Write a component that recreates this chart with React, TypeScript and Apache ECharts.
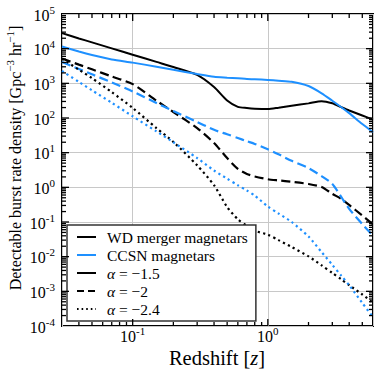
import React, { useEffect, useRef } from 'react';
import * as echarts from 'echarts';

// ---------------- data ----------------
const redshift = [0.03, 0.04, 0.05, 0.07, 0.1, 0.15, 0.2, 0.3, 0.4, 0.5, 0.6, 0.7, 0.8, 1.0, 1.2, 1.5, 2.0, 2.5, 3.0, 3.5, 4.0, 5.0, 6.0];

const wdAlpha15 = [2.8e4, 1.97e4, 1.52e4, 1.02e4, 6.7e3, 4.15e3, 2.96e3, 1.75e3, 780, 320, 210, 194, 186, 182, 199, 226, 264, 305, 265, 205, 165, 118, 90];
const ccsnAlpha15 = [1.15e4, 8.3e3, 6.6e3, 4.9e3, 3.96e3, 3.02e3, 2.46e3, 1.86e3, 1.55e3, 1.46e3, 1.4e3, 1.33e3, 1.31e3, 1.25e3, 1.19e3, 1.11e3, 835, 515, 315, 205, 138, 67, 39];
const wdAlpha2 = [5.2e3, 3.46e3, 2.54e3, 1.58e3, 950, 316, 149, 51, 19, 7.0, 3.4, 2.43, 2.06, 1.71, 1.58, 1.45, 1.25, 1.02, 0.65, 0.46, 0.31, 0.153, 0.086];
const ccsnAlpha2 = [4.1e3, 2.6e3, 1.82e3, 1.06e3, 582, 271, 158, 77, 45.5, 34, 26.5, 21.4, 17.9, 12.5, 9, 5.8, 3.6, 2.1, 1.25, 0.52, 0.24, 0.087, 0.04];
const wdAlpha24 = [5.1e3, 2.47e3, 1.41e3, 558, 195, 51, 20.4, 4.3, 1.15, 0.27, 0.12, 0.077, 0.056, 0.043, 0.03, 0.019, 0.0102, 0.0056, 0.0034, 0.0022, 0.0015, 8.1e-4, 4.7e-4];
const ccsnAlpha24 = [2.27e3, 1.1e3, 630, 275, 112, 41, 20, 7.0, 3.06, 1.78, 1.15, 0.81, 0.58, 0.28, 0.176, 0.1, 0.038, 0.0135, 0.0058, 0.0028, 0.0015, 4.6e-4, 1.8e-4];

const xMajorTicks = [0.1, 1];
const xMinorTicks = [0.04, 0.05, 0.06, 0.07, 0.08, 0.09, 0.2, 0.3, 0.4, 0.5, 0.6, 0.7, 0.8, 0.9, 2, 3, 4, 5];
const yMajorTicks = [1e-3, 1e-2, 1e-1, 1, 10, 100, 1e3, 1e4];
const yDecades = [-4, -3, -2, -1, 0, 1, 2, 3, 4];
const yMantissas = [2, 3, 4, 5, 6, 7, 8, 9];

const legendNames = ['WD merger magnetars', 'CCSN magnetars', 'α = −1.5', 'α = −2', 'α = −2.4'];
const xTitle = 'Redshift';
const yTitle = 'Detectable burst rate density';

// ---------------- styles ----------------
const FONT = '"Liberation Serif", "Times New Roman", serif';
const BLACK = '#000000';
const BLUE = '#1e90ff';
const DASH = [9, 4.5];
const DOT = [2.2, 3.3];

function powLabel(v: number): string {
  const e = Math.log10(v);
  const r = Math.round(e);
  if (Math.abs(e - r) > 1e-6) return '';
  return `{b|10}{s|${r}}`;
}

const tickRich = {
  b: { fontFamily: FONT, fontSize: 16, color: '#000', verticalAlign: 'bottom', lineHeight: 18 },
  s: { fontFamily: FONT, fontSize: 11, color: '#000', verticalAlign: 'bottom', lineHeight: 12, padding: [0, 0, 8, 0] },
};

export default function App() {
  const ref = useRef<HTMLDivElement>(null);

  useEffect(() => {
    if (!ref.current) return;
    const chart = echarts.init(ref.current, undefined, { renderer: 'svg' });

    const yMinorTicks: number[] = [];
    yDecades.forEach((d) => yMantissas.forEach((m) => yMinorTicks.push(m * Math.pow(10, d))));

    const xTickData = [
      ...xMajorTicks.map((v) => [v, 1, 1]),
      ...xMinorTicks.map((v) => [v, 1, 0]),
    ];
    const yTickData = [
      ...yMajorTicks.map((v) => [1, v, 1]),
      ...yMinorTicks.map((v) => [1, v, 0]),
    ];

    const tickStyle = { stroke: '#000', lineWidth: 1.3 };

    const pairs = (ys: number[]) => redshift.map((z, i) => [z, ys[i]]);

    const mkLine = (name: string, ys: number[], color: string, type: any, width: number) => ({
      name,
      type: 'line',
      data: pairs(ys),
      symbol: 'none',
      smooth: 0.25,
      lineStyle: { color, width, type, cap: 'butt' },
      itemStyle: { color },
      z: 3,
    });

    const mkLegendDummy = (name: string, color: string, type: any, width: number) => ({
      name,
      type: 'line',
      data: [],
      symbol: 'none',
      lineStyle: { color, width, type },
      itemStyle: { color },
    });

    const legendLabel: Record<string, string> = {
      'WD merger magnetars': '{sp|}{t|WD merger magnetars}',
      'CCSN magnetars': '{sp|}{t|CCSN magnetars}',
      'α = −1.5': '{sp|}{i|α}{t| = −1.5}',
      'α = −2': '{sp|}{i|α}{t| = −2}',
      'α = −2.4': '{sp|}{i|α}{t| = −2.4}',
    };

    const titleRich = {
      t: { fontFamily: FONT, fontSize: 16, color: '#000', verticalAlign: 'bottom', lineHeight: 18 },
      s: { fontFamily: FONT, fontSize: 11, color: '#000', verticalAlign: 'bottom', lineHeight: 12, padding: [0, 0, 8, 0] },
    };

    const option: any = {
      animation: false,
      backgroundColor: '#ffffff',
      grid: {
        left: 62, right: 5, top: 14, bottom: 48,
        show: true, borderColor: '#000', borderWidth: 2, backgroundColor: 'transparent',
        outerBoundsMode: 'none',
      },
      xAxis: {
        type: 'log', logBase: 10, min: 0.03, max: 6,
        axisLine: { show: false },
        axisTick: { show: false },
        minorTick: { show: false },
        splitLine: { show: true, lineStyle: { color: '#c8c8c8', width: 1 } },
        axisLabel: {
          show: true, margin: 0, formatter: powLabel, rich: tickRich,
          fontFamily: FONT, fontSize: 16, color: '#000', hideOverlap: false,
          showMinLabel: true, showMaxLabel: true,
        },
      },
      yAxis: {
        type: 'log', logBase: 10, min: 1e-4, max: 1e5,
        axisLine: { show: false },
        axisTick: { show: false },
        minorTick: { show: false },
        splitLine: { show: true, lineStyle: { color: '#c8c8c8', width: 1 } },
        axisLabel: {
          show: true, margin: 7, formatter: powLabel, rich: tickRich,
          fontFamily: FONT, fontSize: 16, color: '#000', hideOverlap: false,
        },
      },
      legend: {
        data: legendNames,
        orient: 'vertical',
        left: 67, top: 225,
        itemWidth: 19, itemHeight: 14, itemGap: 2,
        padding: [4, 8, 4, 9],
        backgroundColor: '#ffffff',
        borderColor: '#333333', borderWidth: 1.5, borderRadius: 0,
        selectedMode: false,
        itemStyle: { color: 'transparent', borderColor: 'transparent', borderWidth: 0, opacity: 0 },
        formatter: (name: string) => legendLabel[name] || name,
        textStyle: {
          fontFamily: FONT, fontSize: 15.5, color: '#000', lineHeight: 14,
          rich: {
            sp: { width: 6, lineHeight: 14 },
            t: { fontFamily: FONT, fontSize: 15.5, color: '#000', lineHeight: 14 },
            i: { fontFamily: FONT, fontSize: 15.5, color: '#000', fontStyle: 'italic', lineHeight: 14 },
          },
        },
      },
      graphic: [
        {
          type: 'text', x: 14, y: 158, rotation: Math.PI / 2,
          style: {
            text: `{t|${yTitle} [Gpc}{s|−3}{t| hr}{s|−1}{t|]}`,
            rich: titleRich,
            align: 'center', verticalAlign: 'middle', textAlign: 'center', textVerticalAlign: 'middle',
            fill: '#000',
          },
        },
        {
          type: 'text', x: 217, y: 358,
          style: {
            text: `{t|${xTitle} [}{i|z}{t|]}`,
            rich: {
              t: { fontFamily: FONT, fontSize: 20.5, color: '#000' },
              i: { fontFamily: FONT, fontSize: 20.5, color: '#000', fontStyle: 'italic' },
            },
            align: 'center', verticalAlign: 'middle', textAlign: 'center', textVerticalAlign: 'middle',
            fill: '#000',
          },
        },
      ],
      series: [
        mkLine('WD merger, α=-1.5', wdAlpha15, BLACK, 'solid', 2),
        mkLine('CCSN, α=-1.5', ccsnAlpha15, BLUE, 'solid', 2),
        mkLine('WD merger, α=-2', wdAlpha2, BLACK, DASH, 2.2),
        mkLine('CCSN, α=-2', ccsnAlpha2, BLUE, DASH, 2.2),
        mkLine('WD merger, α=-2.4', wdAlpha24, BLACK, DOT, 2.2),
        mkLine('CCSN, α=-2.4', ccsnAlpha24, BLUE, DOT, 2.2),
        mkLegendDummy('WD merger magnetars', BLACK, 'solid', 2),
        mkLegendDummy('CCSN magnetars', BLUE, 'solid', 2),
        mkLegendDummy('α = −1.5', BLACK, 'solid', 2),
        mkLegendDummy('α = −2', BLACK, [7, 4], 2),
        mkLegendDummy('α = −2.4', BLACK, [1.6, 3], 2),
        {
          name: 'xticks',
          type: 'custom',
          coordinateSystem: 'cartesian2d',
          data: xTickData,
          silent: true,
          z: 6,
          renderItem: (params: any, api: any) => {
            const cs = params.coordSys;
            const p = api.coord([api.value(0), 1]);
            const len = api.value(2) ? 7 : 4;
            return {
              type: 'group',
              children: [
                { type: 'line', shape: { x1: p[0], y1: cs.y + cs.height, x2: p[0], y2: cs.y + cs.height - len }, style: tickStyle },
                { type: 'line', shape: { x1: p[0], y1: cs.y, x2: p[0], y2: cs.y + len }, style: tickStyle },
              ],
            };
          },
        },
        {
          name: 'yticks',
          type: 'custom',
          coordinateSystem: 'cartesian2d',
          data: yTickData,
          silent: true,
          z: 6,
          renderItem: (params: any, api: any) => {
            const cs = params.coordSys;
            const p = api.coord([1, api.value(1)]);
            const len = api.value(2) ? 7 : 4;
            return {
              type: 'group',
              children: [
                { type: 'line', shape: { x1: cs.x, y1: p[1], x2: cs.x + len, y2: p[1] }, style: tickStyle },
                { type: 'line', shape: { x1: cs.x + cs.width, y1: p[1], x2: cs.x + cs.width - len, y2: p[1] }, style: tickStyle },
              ],
            };
          },
        },
      ],
    };

    chart.setOption(option);
    return () => chart.dispose();
  }, []);

  return (
    <div
      ref={ref}
      style={{ position: 'fixed', left: 0, top: 0, width: 378, height: 374, background: '#fff' }}
    />
  );
}
